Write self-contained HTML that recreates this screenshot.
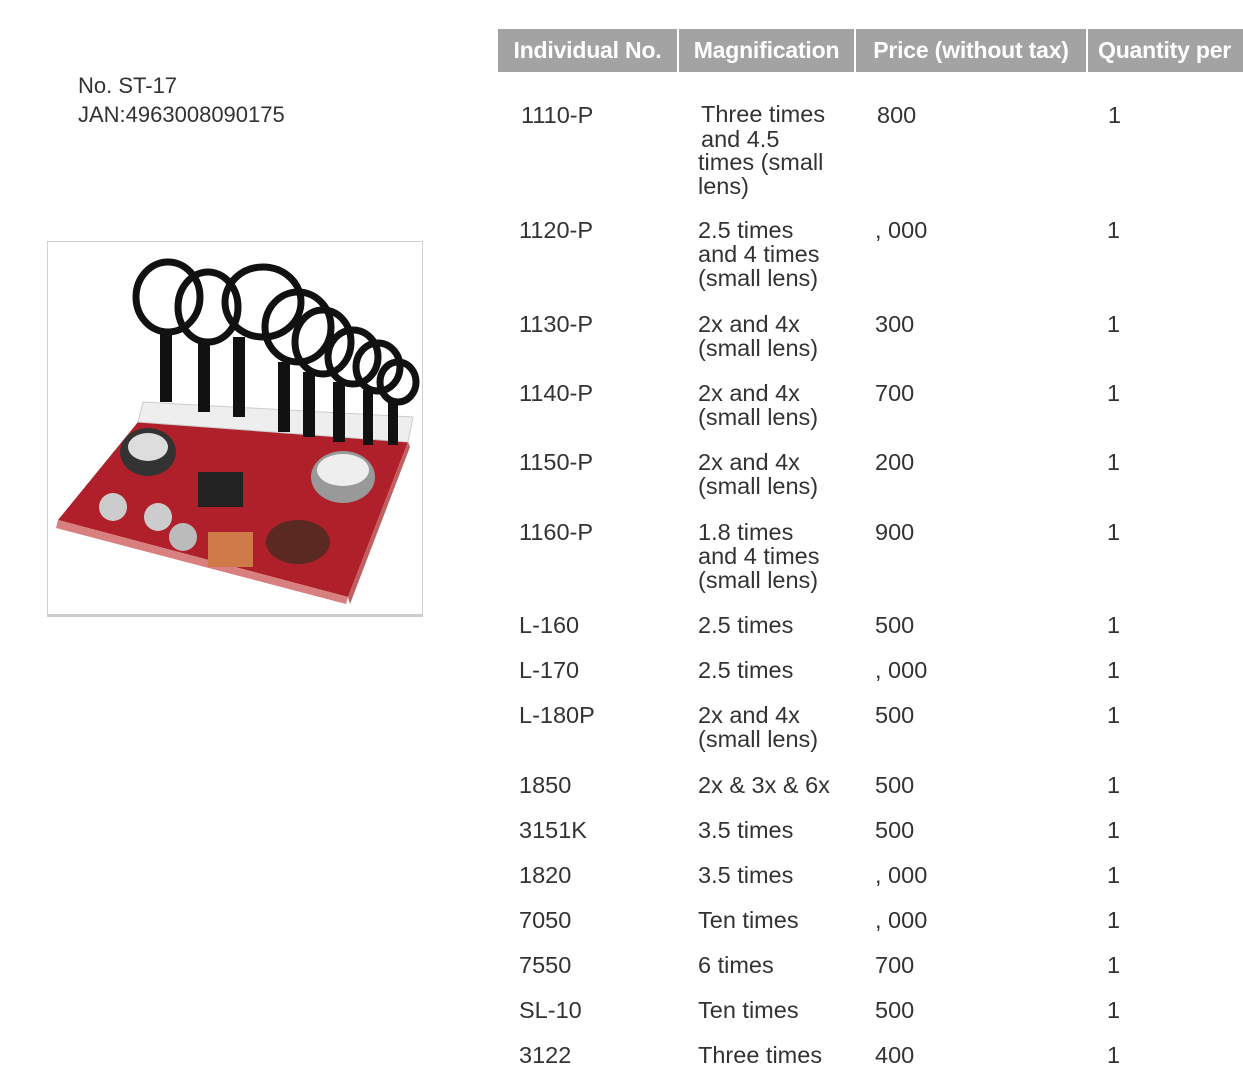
<!DOCTYPE html>
<html><head><meta charset="utf-8"><style>
body{margin:0;width:1243px;height:1075px;background:#fff;position:relative;overflow:hidden;font-family:"Liberation Sans",sans-serif;color:#333}
.t{position:absolute;font-size:23.5px;line-height:24px;white-space:nowrap}
.h{position:absolute;top:29px;height:43px;background:#a3a3a3;color:#fff;font-weight:bold;font-size:23px;line-height:43px;text-align:center;white-space:nowrap;letter-spacing:-0.2px}
</style></head><body>
<div class="t" style="left:78px;top:74px;font-size:22px">No. ST-17</div>
<div class="t" style="left:78px;top:103px;font-size:22px">JAN:4963008090175</div>
<div style="position:absolute;left:47px;top:241px;width:376px;height:376px;border:1px solid #d0d0d0;border-bottom:3px solid #ccc;box-sizing:border-box;background:#fff">
<svg width="376" height="376" viewBox="0 0 376 376">
<polygon points="10,278 90,180 360,200 300,355" fill="#b0202a"/>
<polygon points="10,278 300,355 298,362 8,286" fill="#d88080"/>
<polygon points="300,355 360,200 362,205 302,362" fill="#c06060"/>
<polygon points="95,160 365,175 360,200 90,180" fill="#eee" stroke="#ccc"/>
<g fill="none" stroke="#111" stroke-width="7">
<ellipse cx="120" cy="55" rx="32" ry="35"/><ellipse cx="160" cy="65" rx="30" ry="35"/>
<ellipse cx="215" cy="60" rx="38" ry="35"/><ellipse cx="250" cy="85" rx="33" ry="35"/>
<ellipse cx="275" cy="100" rx="28" ry="32"/><ellipse cx="305" cy="115" rx="25" ry="27"/>
<ellipse cx="330" cy="125" rx="22" ry="24"/><ellipse cx="350" cy="140" rx="18" ry="20"/>
</g>
<g fill="#111"><rect x="112" y="90" width="12" height="70"/><rect x="150" y="100" width="12" height="70"/><rect x="185" y="95" width="12" height="80"/><rect x="230" y="120" width="12" height="70"/><rect x="255" y="130" width="12" height="65"/><rect x="285" y="140" width="12" height="60"/><rect x="315" y="148" width="10" height="55"/><rect x="340" y="158" width="10" height="45"/></g>
<ellipse cx="100" cy="210" rx="28" ry="24" fill="#333"/><ellipse cx="100" cy="205" rx="20" ry="14" fill="#ddd"/>
<ellipse cx="295" cy="235" rx="32" ry="26" fill="#999"/><ellipse cx="295" cy="228" rx="26" ry="16" fill="#eee"/>
<rect x="150" y="230" width="45" height="35" fill="#222"/>
<ellipse cx="250" cy="300" rx="32" ry="22" fill="#5a2a22"/><rect x="160" y="290" width="45" height="35" fill="#d07a4a"/>
<circle cx="110" cy="275" r="14" fill="#ccc"/><circle cx="65" cy="265" r="14" fill="#ccc"/><circle cx="135" cy="295" r="14" fill="#bbb"/>
</svg></div>
<div class="h" style="left:498px;width:179px">Individual No.</div>
<div class="h" style="left:679px;width:175px">Magnification</div>
<div class="h" style="left:856px;width:230px">Price (without tax)</div>
<div class="h" style="left:1088px;width:160px;text-align:left;padding-left:10px">Quantity per</div>

<div class="t" style="left:521px;top:103px">1110-P</div>
<div class="t" style="left:701px;top:103px;line-height:23.5px">Three times</div>
<div class="t" style="left:701px;top:127px">and 4.5</div>
<div class="t" style="left:698px;top:150px">times (small<br>lens)</div>
<div class="t" style="left:877px;top:103px">800</div>
<div class="t" style="left:1108px;top:103px">1</div>

<div class="t" style="left:519px;top:218px">1120-P</div><div class="t" style="left:698px;top:218px">2.5 times<br>and 4 times<br>(small lens)</div><div class="t" style="left:875px;top:218px">, 000</div><div class="t" style="left:1107px;top:218px">1</div>
<div class="t" style="left:519px;top:312px">1130-P</div><div class="t" style="left:698px;top:312px">2x and 4x<br>(small lens)</div><div class="t" style="left:875px;top:312px">300</div><div class="t" style="left:1107px;top:312px">1</div>
<div class="t" style="left:519px;top:381px">1140-P</div><div class="t" style="left:698px;top:381px">2x and 4x<br>(small lens)</div><div class="t" style="left:875px;top:381px">700</div><div class="t" style="left:1107px;top:381px">1</div>
<div class="t" style="left:519px;top:450px">1150-P</div><div class="t" style="left:698px;top:450px">2x and 4x<br>(small lens)</div><div class="t" style="left:875px;top:450px">200</div><div class="t" style="left:1107px;top:450px">1</div>
<div class="t" style="left:519px;top:520px">1160-P</div><div class="t" style="left:698px;top:520px">1.8 times<br>and 4 times<br>(small lens)</div><div class="t" style="left:875px;top:520px">900</div><div class="t" style="left:1107px;top:520px">1</div>
<div class="t" style="left:519px;top:613px">L-160</div><div class="t" style="left:698px;top:613px">2.5 times</div><div class="t" style="left:875px;top:613px">500</div><div class="t" style="left:1107px;top:613px">1</div>
<div class="t" style="left:519px;top:658px">L-170</div><div class="t" style="left:698px;top:658px">2.5 times</div><div class="t" style="left:875px;top:658px">, 000</div><div class="t" style="left:1107px;top:658px">1</div>
<div class="t" style="left:519px;top:703px">L-180P</div><div class="t" style="left:698px;top:703px">2x and 4x<br>(small lens)</div><div class="t" style="left:875px;top:703px">500</div><div class="t" style="left:1107px;top:703px">1</div>
<div class="t" style="left:519px;top:773px">1850</div><div class="t" style="left:698px;top:773px">2x &amp; 3x &amp; 6x</div><div class="t" style="left:875px;top:773px">500</div><div class="t" style="left:1107px;top:773px">1</div>
<div class="t" style="left:519px;top:818px">3151K</div><div class="t" style="left:698px;top:818px">3.5 times</div><div class="t" style="left:875px;top:818px">500</div><div class="t" style="left:1107px;top:818px">1</div>
<div class="t" style="left:519px;top:863px">1820</div><div class="t" style="left:698px;top:863px">3.5 times</div><div class="t" style="left:875px;top:863px">, 000</div><div class="t" style="left:1107px;top:863px">1</div>
<div class="t" style="left:519px;top:908px">7050</div><div class="t" style="left:698px;top:908px">Ten times</div><div class="t" style="left:875px;top:908px">, 000</div><div class="t" style="left:1107px;top:908px">1</div>
<div class="t" style="left:519px;top:953px">7550</div><div class="t" style="left:698px;top:953px">6 times</div><div class="t" style="left:875px;top:953px">700</div><div class="t" style="left:1107px;top:953px">1</div>
<div class="t" style="left:519px;top:998px">SL-10</div><div class="t" style="left:698px;top:998px">Ten times</div><div class="t" style="left:875px;top:998px">500</div><div class="t" style="left:1107px;top:998px">1</div>
<div class="t" style="left:519px;top:1043px">3122</div><div class="t" style="left:698px;top:1043px">Three times</div><div class="t" style="left:875px;top:1043px">400</div><div class="t" style="left:1107px;top:1043px">1</div>
</body></html>
